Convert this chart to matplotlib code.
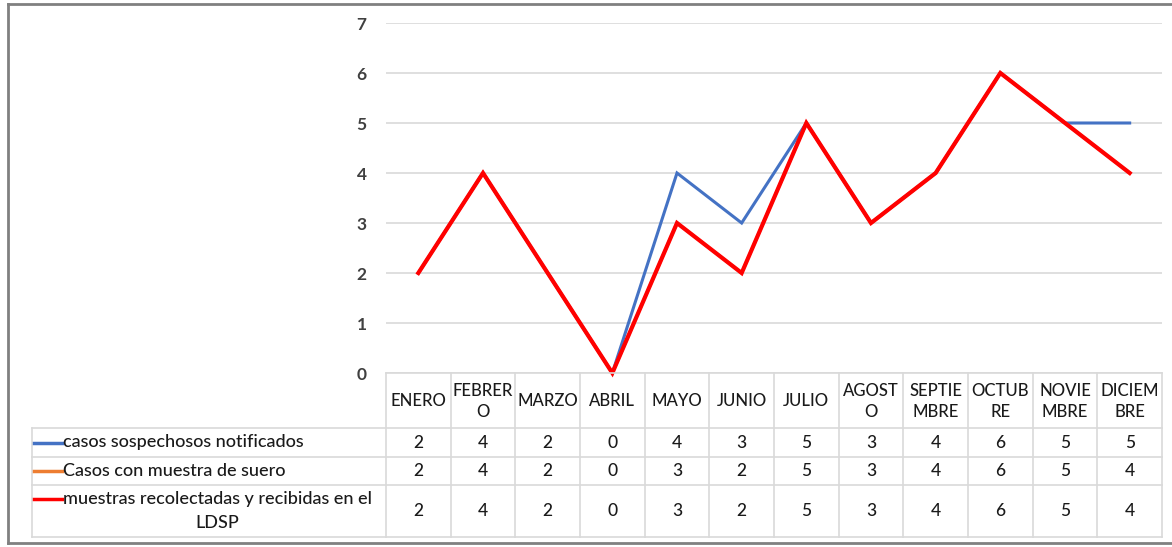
import matplotlib.pyplot as plt
from matplotlib.lines import Line2D

plt.rcParams['font.family'] = ['Lato', 'DejaVu Sans']

# data
months = ["ENERO", "FEBRER\nO", "MARZO", "ABRIL", "MAYO", "JUNIO", "JULIO",
          "AGOST\nO", "SEPTIE\nMBRE", "OCTUB\nRE", "NOVIE\nMBRE", "DICIEM\nBRE"]
sospechosos = [2, 4, 2, 0, 4, 3, 5, 3, 4, 6, 5, 5]
suero = [2, 4, 2, 0, 3, 2, 5, 3, 4, 6, 5, 4]
recolectadas = [2, 4, 2, 0, 3, 2, 5, 3, 4, 6, 5, 4]

series = [
    ("casos sospechosos notificados", sospechosos, "#4472C4", 2.2),
    ("Casos con muestra de suero", suero, "#ED7D31", 2.2),
    ("muestras recolectadas y recibidas en el\nLDSP", recolectadas, "#FF0000", 3.0),
]

W, H = 1172, 547
fig = plt.figure(figsize=(W / 100, H / 100), dpi=100)

# pixel layout
x_left, x_right = 386, 1162
y_top, y_zero = 23, 373
ncol = len(months)
colw = (x_right - x_left) / ncol

ax = fig.add_axes([x_left / W, 1 - y_zero / H, (x_right - x_left) / W, (y_zero - y_top) / H])
x = list(range(ncol))
for name, vals, color, lw in series:
    ax.plot(x, vals, color=color, lw=lw, solid_joinstyle='miter', clip_on=False)
ax.set_xlim(-0.5, ncol - 0.5)
ax.set_ylim(0, 7)
ax.set_yticks(range(8))
ax.set_xticks([])
ax.grid(axis='y', color='#d9d9d9', lw=1.2)
ax.set_axisbelow(True)
for s in ax.spines.values():
    s.set_visible(False)
ax.tick_params(axis='y', length=0, pad=14, labelsize=12.5, labelcolor='#404040')
for t in ax.get_yticklabels():
    t.set_fontweight('bold')

# data table below the plot
t_left, t_bottom = 32, 537
rows_px = [373, 428, 457, 485, 537]  # header top, row1 top, row2 top, row3 top, bottom
tax = fig.add_axes([t_left / W, 1 - t_bottom / H, (x_right - t_left) / W, (t_bottom - rows_px[0]) / H])
label_w = (x_left - t_left) / colw
tax.set_xlim(-0.5 - label_w, ncol - 0.5)
tax.set_ylim(t_bottom, rows_px[0])
tax.axis('off')
gc = '#d9d9d9'
# horizontal lines
tax.plot([-0.5, ncol - 0.5], [rows_px[0]] * 2, color=gc, lw=1.2, clip_on=False)
for yy in rows_px[1:]:
    tax.plot([-0.5 - label_w, ncol - 0.5], [yy, yy], color=gc, lw=1.2, clip_on=False)
# vertical lines
tax.plot([-0.5 - label_w] * 2, [rows_px[1], rows_px[-1]], color=gc, lw=1.2, clip_on=False)
for i in range(ncol + 1):
    tax.plot([i - 0.5] * 2, [rows_px[0], rows_px[-1]], color=gc, lw=1.2, clip_on=False)

txt = '#1a1a1a'
fw = 'medium'
for i, m in enumerate(months):
    tax.text(i, (rows_px[0] + rows_px[1]) / 2 + 1, m, ha='center', va='center',
             fontsize=12, color=txt, linespacing=1.45, fontweight=fw)
for r, (name, vals, color, lw) in enumerate(series):
    yc = (rows_px[r + 1] + rows_px[r + 2]) / 2
    key_x0 = -0.5 - label_w + 2 / colw
    key_x1 = key_x0 + 28 / colw
    ky = yc - 12 if r == 2 else yc
    tax.plot([key_x0, key_x1], [ky, ky], color=color, lw=2.5, clip_on=False)
    tax.text(key_x1 + 1 / colw, yc, name, ha='left', va='center', fontsize=13,
             color=txt, multialignment='center', linespacing=1.55, fontweight=fw)
    for i, v in enumerate(vals):
        tax.text(i, yc, str(v), ha='center', va='center', fontsize=12.5, color=txt,
                 fontweight=fw)

# outer frame
fc = '#808080'
fig.add_artist(Line2D([8 / W, 8 / W], [1 - 4 / H, 1 - 543 / H], color=fc, lw=2))
fig.add_artist(Line2D([8 / W, 1], [1 - 4 / H, 1 - 4 / H], color=fc, lw=2))
fig.add_artist(Line2D([8 / W, 1], [1 - 543 / H, 1 - 543 / H], color=fc, lw=2))

fig.savefig("out.png", dpi=100)
